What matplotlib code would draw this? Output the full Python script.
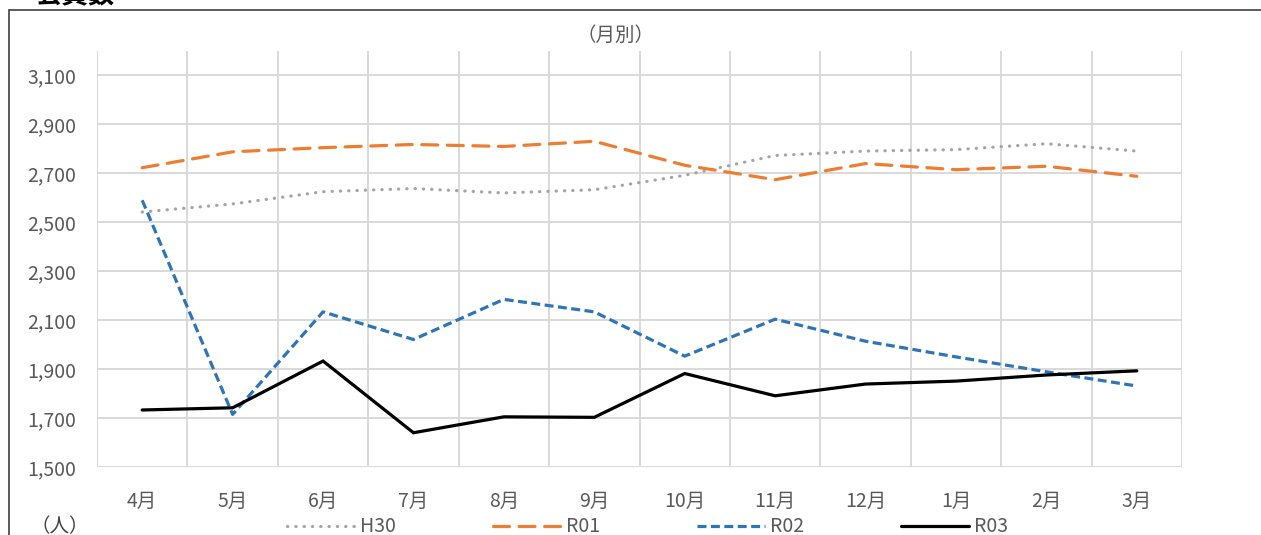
import matplotlib.pyplot as plt
import matplotlib as mpl
from matplotlib.patches import Rectangle

plt.rcParams['font.family'] = ['Noto Sans CJK JP', 'DejaVu Sans']

# data
months = ['4月', '5月', '6月', '7月', '8月', '9月', '10月', '11月', '12月', '1月', '2月', '3月']
h30 = [2542, 2575, 2625, 2638, 2620, 2633, 2692, 2773, 2791, 2797, 2821, 2791]
r01 = [2723, 2788, 2805, 2818, 2810, 2831, 2733, 2674, 2740, 2715, 2729, 2688]
r02 = [2590, 1715, 2134, 2021, 2185, 2134, 1953, 2104, 2014, 1950, 1889, 1831]
r03 = [1733, 1742, 1933, 1640, 1705, 1703, 1882, 1791, 1839, 1851, 1876, 1893]
yticks = [1500, 1700, 1900, 2100, 2300, 2500, 2700, 2900, 3100]

W, H = 1261, 535
fig = plt.figure(figsize=(W / 100, H / 100), dpi=100)

# outer chart frame (top/left visible)
fig.patches.append(Rectangle((9 / W, -0.2), 1.2, 1.2 - 10 / H, transform=fig.transFigure,
                             fill=False, edgecolor='#404040', linewidth=1.2))

ax = fig.add_axes([97 / W, (H - 467) / H, (1182 - 97) / W, (467 - 51) / H])
x = list(range(len(months)))

ax.plot(x, h30, color='#A5A5A5', lw=2.3, linestyle=(0, (0.1, 2.5)),
        dash_capstyle='round', label='H30', zorder=3)
ax.plot(x, r01, color='#ED7D31', lw=2.3, linestyle=(0, (5.0, 3.0)),
        dash_capstyle='round', label='R01', zorder=3)
ax.plot(x, r02, color='#2E75B6', lw=2.3, linestyle=(0, (2.8, 1.4)),
        dash_capstyle='butt', label='R02', zorder=3)
ax.plot(x, r03, color='black', lw=2.3, solid_capstyle='round',
        solid_joinstyle='miter', label='R03', zorder=4)

ax.set_xlim(-0.5, len(months) - 0.5)
ax.set_ylim(1500, 3200)
ax.set_yticks(yticks)
ax.set_yticklabels([f'{v:,}' for v in yticks])
ax.set_xticks(x)
ax.set_xticklabels(months)
ax.set_xticks([i - 0.5 for i in range(len(months) + 1)], minor=True)
ax.tick_params(axis='both', which='both', length=0, labelsize=14, colors='#595959')
ax.tick_params(axis='y', pad=15)
ax.tick_params(axis='x', pad=17)
ax.grid(axis='y', which='major', color='#D9D9D9', lw=1.4, zorder=0)
ax.grid(axis='x', which='minor', color='#D9D9D9', lw=1.4, zorder=0)
for s in ax.spines.values():
    s.set_visible(False)
ax.set_facecolor('none')

fig.text(35 / W, 1 + 4 / H, '会員数', fontsize=19, fontweight='bold', va='center', ha='left')
fig.text(616 / W, 1 - 35 / H, '（月別）', fontsize=14, color='#595959', va='center', ha='center')
fig.text(30 / W, 1 - 527 / H, '（人）', fontsize=14, color='#404040', va='center', ha='left')

leg = fig.legend(loc='center left', bbox_to_anchor=(287 / W, 1 - 527 / H), ncol=4,
                 frameon=False, fontsize=14, handlelength=3.5, handletextpad=0.26,
                 columnspacing=4.98, borderpad=0, borderaxespad=0)
for t in leg.get_texts():
    t.set_color('#595959')

fig.savefig('out.png', dpi=100)
